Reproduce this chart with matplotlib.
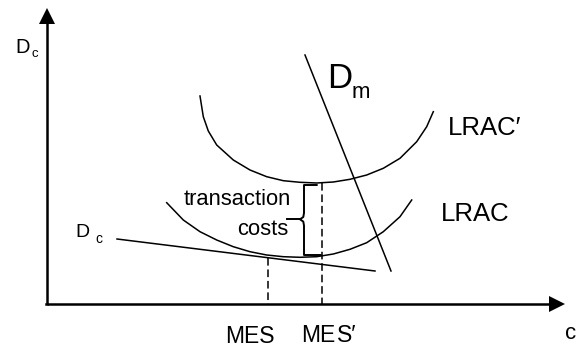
import matplotlib
matplotlib.use("Agg")
import matplotlib.pyplot as plt
import numpy as np

# ---- data (diagram coordinates, pixel-like units) ----
lrac_prime_x = [200, 203.3, 208.3, 216.7, 233.3, 250, 266.7, 283.3, 300, 316.7,
                333.3, 350, 366.7, 383.3, 400, 416.7, 426.7, 433.3]
lrac_prime_y = [96, 116.7, 131, 145, 160, 170, 176.7, 180.7, 182.3, 183,
                182, 179.3, 175, 168.3, 158.3, 141.7, 126.7, 111.7]

lrac_x = [166.7, 183.3, 200, 216.7, 233.3, 250, 266.7, 283.3, 300, 316.7,
          333.3, 350, 366.7, 383.3, 400, 411.7]
lrac_y = [202.7, 220, 231.7, 240, 246.7, 251.7, 255, 256.7, 257.3, 256.7,
          254, 249.3, 242.7, 231.7, 216.7, 200]

dc_x = [117, 375]
dc_y = [239, 271]

dm_x = [305, 391]
dm_y = [55, 271]

mes_x = 267.5
mes_top = 258
mes2_x = 321.7
mes2_top = 183

brace_x = [316.7, 304, 304, 303.3, 300, 303.3, 304, 304, 320.7]
brace_y = [185, 185, 213, 217, 219.3, 221.6, 225.6, 255, 255]
stub_x = [286.7, 300]
stub_y = [219.3, 219.3]

axis_origin = (47, 304)
y_axis_top = 8
x_axis_right = 565

# ---- figure ----
W, H = 579, 349
fig = plt.figure(figsize=(W / 100, H / 100), dpi=100)
ax = fig.add_axes([0, 0, 1, 1])
ax.set_xlim(0, W)
ax.set_ylim(H, 0)
ax.axis("off")

fam = ["Liberation Sans Narrow", "Liberation Sans", "DejaVu Sans"]
k = "black"

# axes with arrowheads
ox, oy = axis_origin
ax.plot([ox, ox], [oy, y_axis_top + 12], color=k, lw=1.8, solid_capstyle="butt")
ax.plot([ox, x_axis_right - 12], [oy, oy], color=k, lw=1.8, solid_capstyle="butt")
ax.plot([ox - 1, ox], [oy, oy], color=k, lw=1.8)
ax.fill([ox - 8, ox + 8, ox], [y_axis_top + 16, y_axis_top + 16, y_axis_top], color=k, lw=0)
ax.fill([x_axis_right - 16, x_axis_right - 16, x_axis_right], [oy - 8, oy + 8, oy], color=k, lw=0)

lw = 1.1
ax.plot(lrac_prime_x, lrac_prime_y, color=k, lw=lw, solid_joinstyle="round")
ax.plot(lrac_x, lrac_y, color=k, lw=lw, solid_joinstyle="round")
ax.plot(dc_x, dc_y, color=k, lw=lw)
ax.plot(dm_x, dm_y, color=k, lw=lw)

dash = (0, (5, 2.5))
ax.plot([mes_x, mes_x], [mes_top, oy], color=k, lw=1.1, linestyle=dash)
ax.plot([mes2_x, mes2_x], [mes2_top, oy], color=k, lw=1.1, linestyle=dash)

ax.plot(brace_x, brace_y, color=k, lw=1.4, solid_joinstyle="round")
ax.plot(stub_x, stub_y, color=k, lw=1.4)

def txt(x, y, s, size, ha="left"):
    ax.text(x, y, s, fontsize=size, family=fam, ha=ha, va="baseline", color=k)

txt(15, 53, "D", 14.5)
txt(31, 57, "c", 9.5)
txt(75, 237, "D", 14)
txt(95, 243, "c", 10)
txt(327, 88, "D", 25)
txt(352, 98, "m", 16)
txt(448, 135, "LRAC\u2032", 18.5)
txt(441, 221, "LRAC", 18.5)
txt(237, 205, "transaction", 15.8, ha="center")
txt(288, 235, "costs", 15.8, ha="right")
txt(225, 343, "MES", 16.5)
txt(301, 342, "ME", 16.5)
txt(337, 342, "S\u2032", 16.5)
txt(565, 339, "c", 16)

fig.savefig("out.png", dpi=100)
